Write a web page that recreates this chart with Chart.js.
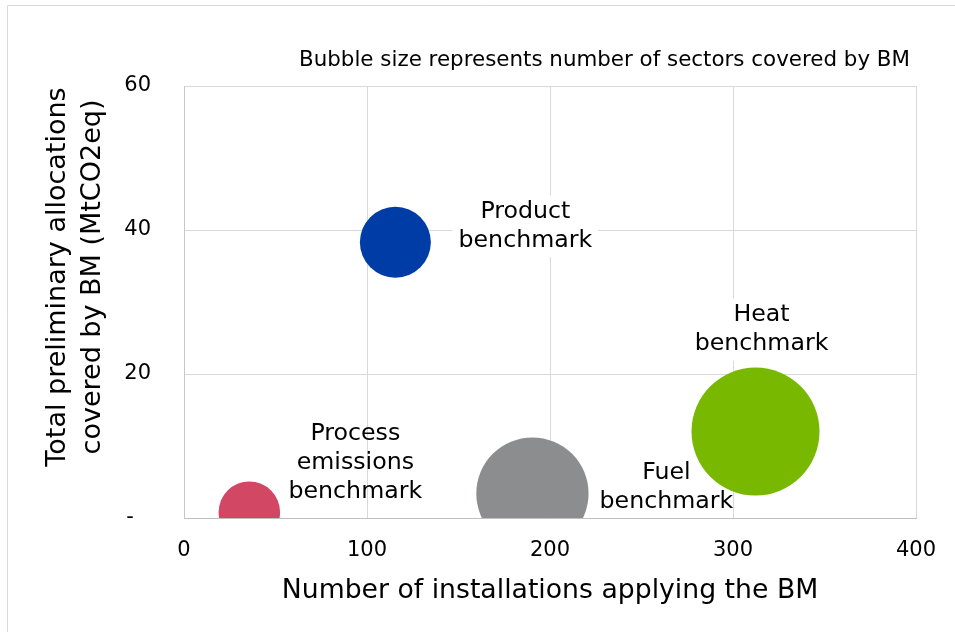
<!DOCTYPE html>
<html>
<head>
<meta charset="utf-8">
<script src="https://cdn.jsdelivr.net/npm/chart.js@4.4.1/dist/chart.umd.min.js"></script>
<style>
  html, body { margin: 0; padding: 0; background: #fff; }
  #wrap { width: 955px; height: 632px; }
</style>
</head>
<body>
<div id="wrap"><canvas id="bmChart" width="955" height="632"></canvas></div>
<script>
// benchmarks, left to right
const benchmarks = [
  ['Process', 'emissions', 'benchmark'],
  ['Product', 'benchmark'],
  ['Fuel', 'benchmark'],
  ['Heat', 'benchmark']
];
const installations = [35.7, 115.5, 190.4, 312.3];   // x: number of installations
const allocations = [0.8, 38.3, 3.4, 12.0];          // y: MtCO2eq
const sectors = [3, 4, 10, 13];                       // bubble size
const bubbleColors = ['#d24763', '#003ca6', '#8c8d8f', '#78b800'];
const yTicks = [0, 20, 40, 60];
const xTicks = [0, 100, 200, 300, 400];
const yTitle = ['Total preliminary allocations', 'covered by BM (MtCO2eq)'];

// label placement around each bubble (px) and whether it gets a white box
const labelOffsets = [[106, -49], [130, -16], [134, -6], [6, -102]];
const labelBoxed = [false, true, false, true];

const FONT = 'DejaVu Sans';
const MAX_R = 64;
const maxSectors = Math.max(...sectors);

const points = installations.map((x, i) => ({
  x: x,
  y: allocations[i],
  r: MAX_R * Math.sqrt(sectors[i] / maxSectors)
}));

// outer frame, subtitle, y title and bubble labels
const decorations = {
  id: 'decorations',
  beforeDraw(chart) {
    const ctx = chart.ctx;
    ctx.save();
    ctx.strokeStyle = '#d9d9d9';
    ctx.lineWidth = 1;
    ctx.beginPath();
    ctx.moveTo(7.5, 632);
    ctx.lineTo(7.5, 5.5);
    ctx.lineTo(955, 5.5);
    ctx.stroke();

    // y axis title, two lines, rotated
    ctx.fillStyle = '#000';
    ctx.font = '27px "' + FONT + '"';
    ctx.textAlign = 'center';
    ctx.textBaseline = 'middle';
    ctx.translate(58, 277);
    ctx.rotate(-Math.PI / 2);
    yTitle.forEach((t, k) => ctx.fillText(t, 0, k * 35));
    ctx.restore();
  },
  afterDatasetsDraw(chart) {
    const ctx = chart.ctx;
    const meta = chart.getDatasetMeta(0);
    ctx.save();
    ctx.fillStyle = '#000';
    ctx.font = '21.4px "' + FONT + '"';
    ctx.textAlign = 'right';
    ctx.textBaseline = 'middle';
    ctx.fillText('Bubble size represents number of sectors covered by BM', 910, 60);

    ctx.font = '23.7px "' + FONT + '"';
    ctx.textAlign = 'center';
    const lh = 29;
    meta.data.forEach((pt, i) => {
      const lines = benchmarks[i];
      const cx = pt.x + labelOffsets[i][0];
      const cy = pt.y + labelOffsets[i][1];
      const top = cy - lines.length * lh / 2;
      if (labelBoxed[i]) {
        const w = Math.max(...lines.map(l => ctx.measureText(l).width)) + 12;
        ctx.fillStyle = '#fff';
        ctx.fillRect(cx - w / 2, top - 2, w, lines.length * lh + 4);
      }
      ctx.fillStyle = '#000';
      lines.forEach((l, k) => ctx.fillText(l, cx, top + lh * (k + 0.5)));
    });
    ctx.restore();
  }
};

const ctx = document.getElementById('bmChart').getContext('2d');

new Chart(ctx, {
  type: 'bubble',
  data: {
    datasets: [{
      data: points,
      backgroundColor: bubbleColors,
      borderColor: bubbleColors,
      borderWidth: 0
    }]
  },
  options: {
    responsive: false,
    animation: false,
    layout: {
      autoPadding: false,
      padding: { top: 86, right: 39, bottom: 0, left: 0 }
    },
    plugins: {
      legend: { display: false },
      tooltip: { enabled: false }
    },
    scales: {
      x: {
        type: 'linear',
        min: 0,
        max: 400,
        afterBuildTicks: s => { s.ticks = xTicks.map(v => ({ value: v })); },
        afterFit: s => { s.height = 114; s.paddingLeft = 0; s.paddingRight = 0; },
        grid: { color: '#d9d9d9', drawTicks: false },
        border: { color: '#bfbfbf', width: 1 },
        ticks: {
          padding: 20,
          color: '#000',
          font: { family: FONT, size: 21 },
          maxRotation: 0
        },
        title: {
          display: true,
          text: 'Number of installations applying the BM',
          color: '#000',
          font: { family: FONT, size: 26.7, lineHeight: 1.2 },
          padding: { top: 0, bottom: 25 }
        }
      },
      y: {
        type: 'linear',
        min: 0,
        max: 60,
        afterBuildTicks: s => { s.ticks = yTicks.map(v => ({ value: v })); },
        afterFit: s => { s.width = 184; s.paddingTop = 0; s.paddingBottom = 0; },
        grid: { color: '#d9d9d9', drawTicks: false },
        border: { color: '#c8c8c8', width: 1 },
        ticks: {
          padding: 33,
          color: '#000',
          font: { family: FONT, size: 21 },
          callback: v => v === 0 ? '- \u2002' : String(v)
        }
      }
    }
  },
  plugins: [decorations]
});
</script>
</body>
</html>
